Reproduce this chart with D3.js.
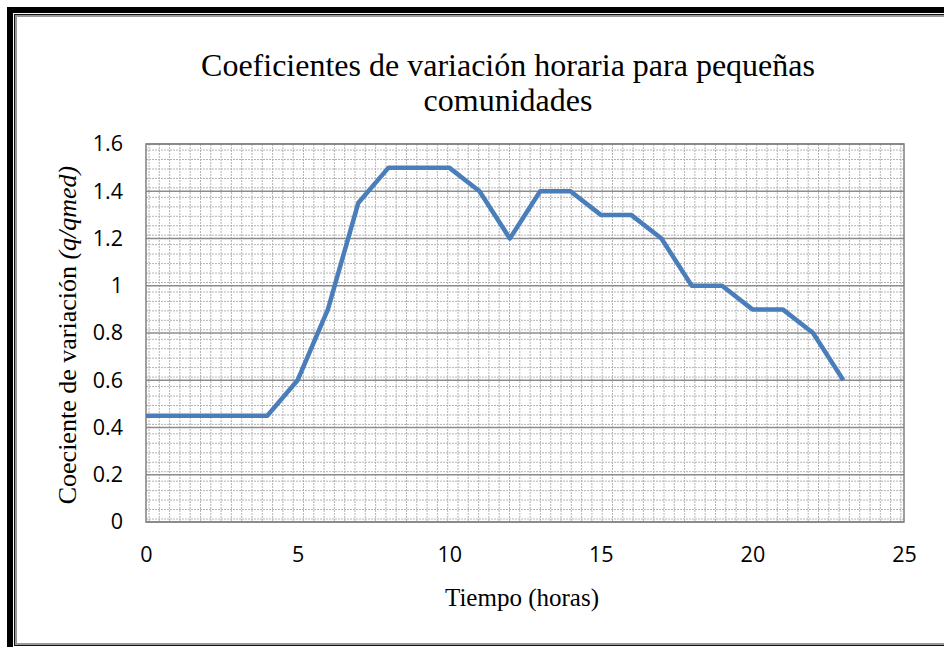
<!DOCTYPE html>
<html><head><meta charset="utf-8">
<script src="https://cdn.jsdelivr.net/npm/d3@7"></script>
<style>html,body{margin:0;padding:0;background:#fff;}svg{display:block;}</style>
</head><body>
<svg id="c" width="944" height="647"></svg>
<script>
const hours = [0,1,2,3,4,5,6,7,8,9,10,11,12,13,14,15,16,17,18,19,20,21,22,23];
const coef  = [0.45,0.45,0.45,0.45,0.45,0.6,0.9,1.35,1.5,1.5,1.5,1.4,1.2,1.4,1.4,1.3,1.3,1.2,1.0,1.0,0.9,0.9,0.8,0.6];
const xTicks = [0,5,10,15,20,25];
const yTicks = [0,0.2,0.4,0.6,0.8,1,1.2,1.4,1.6];
const titleLines = ["Coeficientes de variación horaria para pequeñas","comunidades"];

const svg = d3.select("#c");
// frame
svg.append("rect").attr("x",10).attr("y",10).attr("width",960).attr("height",643)
  .attr("fill","none").attr("stroke","#000").attr("stroke-width",6);
svg.append("rect").attr("x",14.5).attr("y",14.5).attr("width",950).attr("height",631)
  .attr("fill","none").attr("stroke","#111").attr("stroke-width",1);
svg.append("rect").attr("x",16).attr("y",16).attr("width",947).attr("height",628)
  .attr("fill","none").attr("stroke","#9a9a9a").attr("stroke-width",2);

const L=146, T=144, R=904, B=522;
const x = d3.scaleLinear().domain([0,25]).range([L,R]);
const y = d3.scaleLinear().domain([0,1.6]).range([B,T]);

const g = svg.append("g");
// minor dotted grid (pattern-like)
const vStep = 10.3, hStep = 9.46;
d3.range(L+3, R, vStep).forEach(px=>{
  g.append("line").attr("x1",px).attr("x2",px).attr("y1",T).attr("y2",B)
   .attr("stroke","#b4b4b4").attr("stroke-width",1).attr("stroke-dasharray","2,1");
});
d3.range(B-3, T, -hStep).forEach(py=>{
  g.append("line").attr("x1",L).attr("x2",R).attr("y1",py).attr("y2",py)
   .attr("stroke","#b4b4b4").attr("stroke-width",1).attr("stroke-dasharray","2,1");
});
// major horizontal gridlines
g.selectAll(".maj").data(yTicks).enter().append("line")
  .attr("x1",L).attr("x2",R).attr("y1",d=>y(d)).attr("y2",d=>y(d))
  .attr("stroke","#8c8c8c").attr("stroke-width",1.5);
// plot border
g.append("rect").attr("x",L).attr("y",T).attr("width",R-L).attr("height",B-T)
  .attr("fill","none").attr("stroke","#808080").attr("stroke-width",1.5);

// axes labels via d3 axes
const yAxis = d3.axisLeft(y).tickValues(yTicks).tickSize(0).tickPadding(23)
  .tickFormat(d=>d3.format("")(+d.toFixed(1)));
const ya = svg.append("g").attr("transform",`translate(${L},0)`).call(yAxis);
ya.select(".domain").remove();
ya.selectAll("text").attr("font-family","'Open Sans', sans-serif").attr("font-size",21.5).attr("fill","#000");

const xAxis = d3.axisBottom(x).tickValues(xTicks).tickSize(0).tickPadding(25);
const xa = svg.append("g").attr("transform",`translate(0,${B})`).call(xAxis);
xa.select(".domain").remove();
xa.selectAll("text").attr("font-family","'Open Sans', sans-serif").attr("font-size",21.5).attr("fill","#000");

// line
const line = d3.line().x((d,i)=>x(hours[i])).y(d=>y(d));
svg.append("path").datum(coef).attr("d",line).attr("fill","none")
  .attr("stroke","#4a7ebb").attr("stroke-width",4.5).attr("stroke-linejoin","round");

// title
const tt = svg.append("text").attr("text-anchor","middle")
  .attr("font-family","'Liberation Serif', 'Times New Roman', serif").attr("font-size",32).attr("fill","#000");
titleLines.forEach((t,i)=>tt.append("tspan").attr("x",508).attr("y",76+i*35).text(t));

// x label
svg.append("text").attr("x",522).attr("y",606).attr("text-anchor","middle")
  .attr("font-family","'Liberation Serif', 'Times New Roman', serif").attr("font-size",25).text("Tiempo (horas)");
// y label
const yl = svg.append("text").attr("transform","translate(76,335) rotate(-90)").attr("text-anchor","middle")
  .attr("font-family","'Liberation Serif', 'Times New Roman', serif").attr("font-size",26);
yl.append("tspan").text("Coeciente de variación ");
yl.append("tspan").attr("font-style","italic").text("(q/qmed)");
</script>
</body></html>
